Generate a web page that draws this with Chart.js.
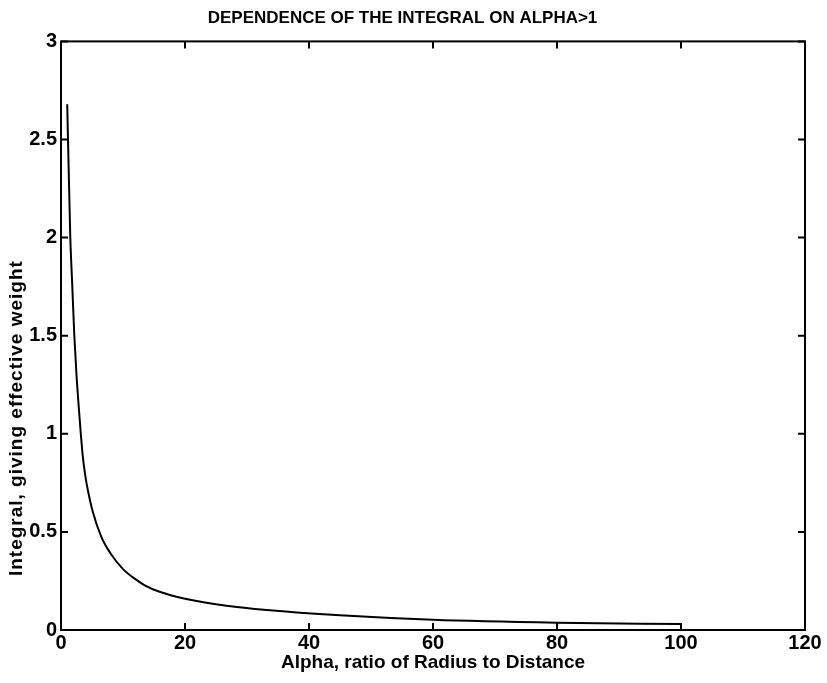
<!DOCTYPE html>
<html>
<head>
<meta charset="utf-8">
<script src="https://cdn.jsdelivr.net/npm/chart.js@4.4.1/dist/chart.umd.min.js"></script>
<style>
  body { margin: 0; background: #fff; }
  canvas { display: block; }
</style>
</head>
<body>
<canvas id="myChart" width="827" height="683"></canvas>
<script>
const ctx = document.getElementById('myChart');

// values (alpha, integral)
const alpha = [1, 1.13, 1.5, 1.77, 2.15, 2.5, 3, 3.5, 4, 4.35, 5.15, 6.5, 8, 10, 11.6, 13.5, 15.9, 20.2, 26.7, 33.2, 45, 60, 80, 100];
const integral = [2.68, 2.5, 2.0, 1.79, 1.5, 1.3, 1.08, 0.89, 0.77, 0.71, 0.6, 0.475, 0.39, 0.31, 0.268, 0.228, 0.195, 0.158, 0.124, 0.102, 0.075, 0.052, 0.037, 0.03];
// line drops to zero at the end
const dropX = [100, 100];
const dropY = [0.03, 0];

const xTicks = [0, 20, 40, 60, 80, 100, 120];
const yTicks = [0, 0.5, 1, 1.5, 2, 2.5, 3];

const titleText = 'DEPENDENCE OF THE INTEGRAL ON ALPHA>1';
const xLabel = 'Alpha, ratio of Radius to Distance';
const yLabel = 'Integral, giving effective weight';

let curve = alpha.map((a, i) => ({ x: a, y: integral[i] }));
let drop = dropX.map((a, i) => ({ x: a, y: dropY[i] }));

// matlab style: box round the axes, ticks pointing in, y label
const boxTicks = {
  id: 'boxTicks',
  afterDraw(chart) {
    const c = chart.ctx;
    const a = chart.chartArea;
    const sx = chart.scales.x, sy = chart.scales.y;
    c.save();
    c.strokeStyle = '#000';
    c.lineWidth = 2;
    c.strokeRect(a.left, a.top, a.right - a.left, a.bottom - a.top);
    c.beginPath();
    xTicks.forEach(v => {
      const px = sx.getPixelForValue(v);
      c.moveTo(px, a.bottom); c.lineTo(px, a.bottom - 7);
      c.moveTo(px, a.top); c.lineTo(px, a.top + 7);
    });
    yTicks.forEach(v => {
      const py = sy.getPixelForValue(v);
      c.moveTo(a.left, py); c.lineTo(a.left + 7, py);
      c.moveTo(a.right, py); c.lineTo(a.right - 7, py);
    });
    c.stroke();

    // y label sits a bit below the middle in the scan
    c.translate(a.left - 44, a.top + (a.bottom - a.top) * 0.64);
    c.rotate(-Math.PI / 2);
    c.fillStyle = '#000';
    c.font = 'bold 19px "Liberation Sans"';
    c.letterSpacing = '1px';
    c.textAlign = 'center';
    c.textBaseline = 'middle';
    c.fillText(yLabel, 0, 0);
    c.restore();
  }
};

let t = {
  type: 'line',
  data: {
    datasets: [
      {
        label: 'integral',
        data: curve,
        borderColor: '#000',
        borderWidth: 2,
        pointRadius: 0,
        cubicInterpolationMode: 'monotone',
        fill: false
      },
      {
        label: 'drop',
        data: drop,
        borderColor: '#000',
        borderWidth: 2,
        pointRadius: 0,
        fill: false
      }
    ]
  },
  options: {
    responsive: false,
    animation: false,
    layout: { padding: { left: 0, right: 22, top: 0, bottom: 0 } },
    plugins: {
      legend: { display: false },
      tooltip: { enabled: false },
      title: {
        display: true,
        text: titleText,
        color: '#000',
        font: { family: 'Liberation Sans', size: 17, weight: 'bold', lineHeight: 1.2 },
        padding: { top: 8, bottom: 13 }
      }
    },
    scales: {
      x: {
        type: 'linear',
        min: 0,
        max: 120,
        grid: { display: false, drawTicks: false },
        border: { display: false },
        afterBuildTicks: (s) => { s.ticks = xTicks.map(v => ({ value: v })); },
        afterFit: (s) => { s.height = 53; },
        ticks: {
          color: '#000',
          padding: 1,
          maxRotation: 0,
          callback: (v) => String(v),
          font: { family: 'Liberation Sans', size: 20, weight: 'bold' }
        },
        title: {
          display: true,
          text: xLabel,
          color: '#000',
          font: { family: 'Liberation Sans', size: 19, weight: 'bold' },
          padding: { top: 0, bottom: 9 }
        }
      },
      y: {
        type: 'linear',
        min: 0,
        max: 3,
        grid: { display: false, drawTicks: false },
        border: { display: false },
        afterBuildTicks: (s) => { s.ticks = yTicks.map(v => ({ value: v })); },
        afterFit: (s) => { s.width = 61; },
        ticks: {
          color: '#000',
          padding: 4,
          callback: (v) => String(v),
          font: { family: 'Liberation Sans', size: 20, weight: 'bold' }
        }
      }
    }
  },
  plugins: [boxTicks]
};

let cc = new Chart(ctx, t);
</script>
</body>
</html>
